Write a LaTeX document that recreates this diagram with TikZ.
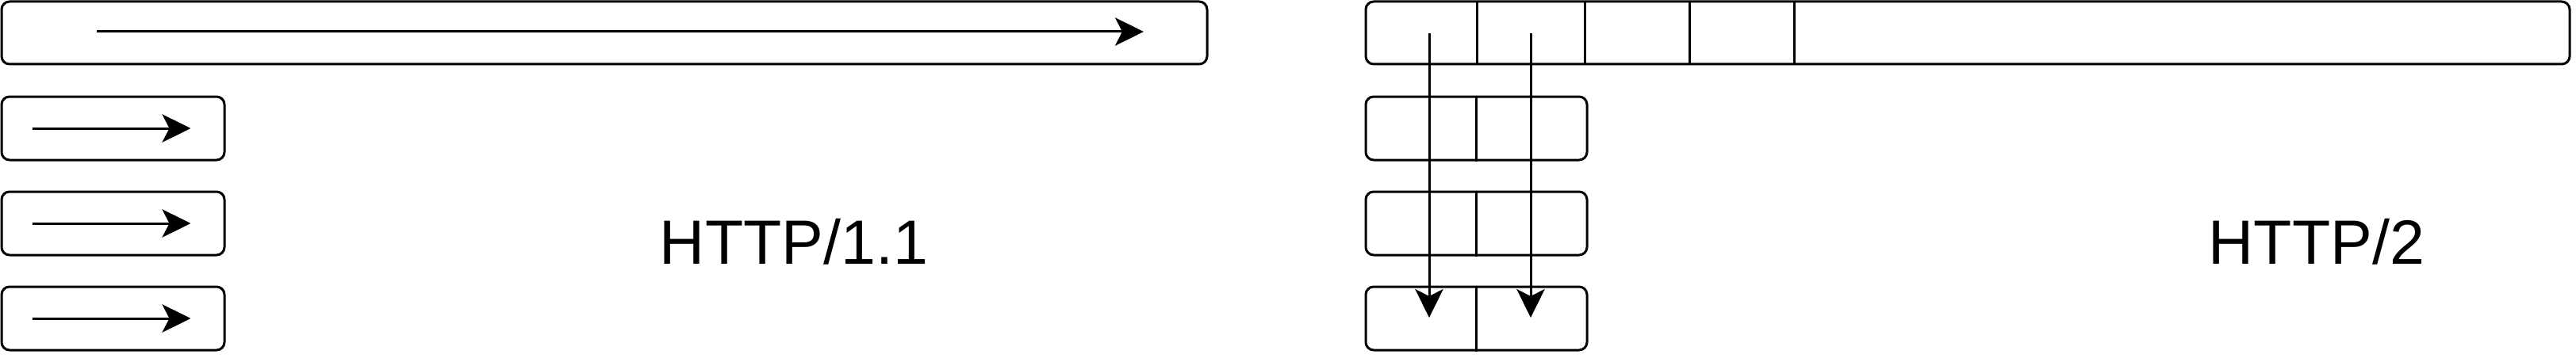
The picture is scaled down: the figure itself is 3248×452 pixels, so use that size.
\documentclass[tikz,border=0pt]{standalone}
\usepackage{fontspec}
\setmainfont{Liberation Sans}
\usetikzlibrary{arrows.meta}
\begin{document}
\begin{tikzpicture}[x=1pt,y=-1pt,
  box/.style={draw=black,line width=3pt,rounded corners=10pt,rectangle,inner sep=0pt},
  div/.style={draw=black,line width=3pt},
  flow/.style={draw=black,line width=3pt,-{Stealth[length=36pt,width=35.4pt,inset=9pt]}},
  lbl/.style={font=\fontsize{79}{92}\selectfont,anchor=base,inner sep=0pt}]
\useasboundingbox (0,0) rectangle (3248,452);
% HTTP/1.1
\node[box,minimum width=1520pt,minimum height=79pt] (a0) at (762,41.5) {};
\node[box,minimum width=281pt,minimum height=80pt] (a1) at (142.5,162) {};
\node[box,minimum width=281pt,minimum height=80pt] (a2) at (142.5,282) {};
\node[box,minimum width=281pt,minimum height=80pt] (a3) at (142.5,402) {};
\coordinate (s0) at (122,40); \coordinate (e0) at (1442,40);
\draw[flow] (s0) -- (e0);
\foreach \i in {1,2,3}{
  \coordinate (s\i) at ([xshift=40pt]a\i.west);
  \coordinate (e\i) at ([xshift=240pt]a\i.west);
  \draw[flow] (s\i) -- (e\i);
}
\node[lbl] (t1) at (1001,333) {HTTP/1.1};
% HTTP/2
\node[box,minimum width=1518pt,minimum height=79pt] (b0) at (2481,41.5) {};
\node[box,minimum width=279pt,minimum height=80pt] (b1) at (1861.5,162) {};
\node[box,minimum width=279pt,minimum height=80pt] (b2) at (1861.5,282) {};
\node[box,minimum width=279pt,minimum height=80pt] (b3) at (1861.5,402) {};
\foreach \x in {1862,1998,2130,2262}{
  \draw[div] (\x,2) -- (\x,81);
}
\foreach \i in {1,2,3}{
  \draw[div] (b\i.north) -- (b\i.south);
}
\coordinate (p1) at (1802,42); \coordinate (q1) at (1802,401);
\coordinate (p2) at (1930,42); \coordinate (q2) at (1930,401);
\draw[flow] (p1) -- (q1);
\draw[flow] (p2) -- (q2);
\node[lbl] (t2) at (2921,333) {HTTP/2};
\end{tikzpicture}
\end{document}
